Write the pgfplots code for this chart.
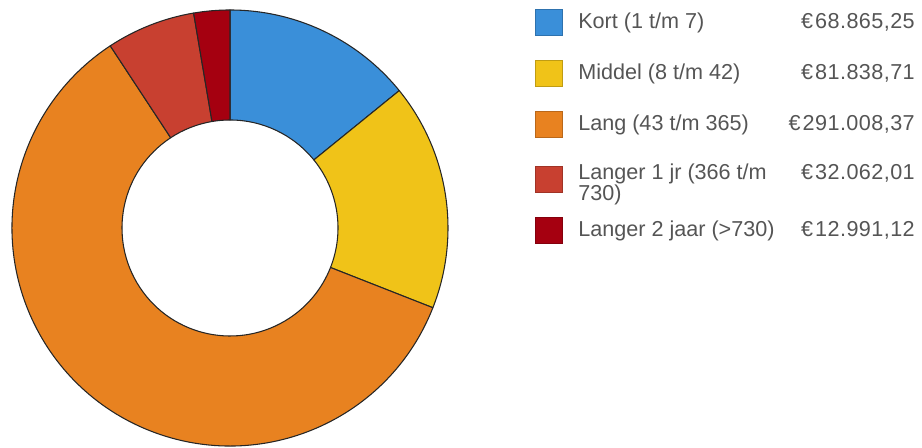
\documentclass[border=0pt]{standalone}
\usepackage{pgfplots}
\pgfplotsset{compat=1.18}
\usepackage{pgfplotstable}
\usepackage{fontspec}
\setmainfont{Liberation Sans}
\newfontfamily\valfont[LetterSpace=2]{Liberation Sans}

\definecolor{cKort}{HTML}{3A8FD9}
\definecolor{cMiddel}{HTML}{F0C318}
\definecolor{cLang}{HTML}{E88220}
\definecolor{cLanger}{HTML}{C84030}
\definecolor{cLangerTwee}{HTML}{A50010}
\definecolor{txt}{HTML}{555555}

% bedrag per looptijd (euro)
\pgfplotstableread{
value colour
68865.25 cKort
81838.71 cMiddel
291008.37 cLang
32062.01 cLanger
12991.12 cLangerTwee
}\donutdata

\begin{document}
\begin{tikzpicture}[font=\fontsize{16.2}{19}\selectfont]
\begin{axis}[
  x=0.75pt, y=0.75pt,
  xmin=0, xmax=922, ymin=0, ymax=448,
  y dir=reverse,
  hide axis, scale only axis, clip=false,
]
\coordinate (BL) at (axis cs:0,448);
\coordinate (TR) at (axis cs:922,0);
\coordinate (C) at (axis cs:230,228);

% legend
\foreach \yc/\col/\name/\val in {
  22/cKort/{Kort (1 t/m 7)}/{68.865,25},
  73/cMiddel/{Middel (8 t/m 42)}/{81.838,71},
  124/cLang/{Lang (43 t/m 365)}/{291.008,37},
  230/cLangerTwee/{Langer 2 jaar (>730)}/{12.991,12}}{
  \edef\tmp{\noexpand\filldraw[fill=\col, draw=\col!80!black, line width=0.6pt]
    (axis cs:535,\yc-13) rectangle (axis cs:562,\yc+13);
    \noexpand\node[anchor=base west, text=txt, inner sep=0pt] at (axis cs:578,\yc+7) {\name};
    \noexpand\node[anchor=base east, text=txt, inner sep=0pt] at (axis cs:915,\yc+7) {\noexpand\valfont €\noexpand\kern1.5pt\val};}
  \tmp
}
\filldraw[fill=cLanger, draw=cLanger!80!black, line width=0.6pt]
  (axis cs:535,166) rectangle (axis cs:562,192);
\node[anchor=base west, text=txt, inner sep=0pt] at (axis cs:578,180) {Langer 1 jr (366 t/m};
\node[anchor=base west, text=txt, inner sep=0pt] at (axis cs:578,201) {730)};
\node[anchor=base east, text=txt, inner sep=0pt] at (axis cs:915,180) {\valfont €\kern1.5pt32.062,01};
\end{axis}

% donut segments from the table, clockwise from the top
\pgfmathsetmacro{\R}{218*0.75}
\pgfmathsetmacro{\r}{108*0.75}
\xdef\total{0}
\foreach \i in {0,...,4}{
  \pgfplotstablegetelem{\i}{value}\of\donutdata
  \xdef\total{\fpeval{\total+\pgfplotsretval}}
}
\xdef\acur{90}
\foreach \i in {0,...,4}{
  \pgfplotstablegetelem{\i}{value}\of\donutdata
  \edef\aa{\acur}
  \xdef\acur{\fpeval{\acur-360*\pgfplotsretval/\total}}
  \edef\ab{\acur}
  \pgfplotstablegetelem{\i}{colour}\of\donutdata
  \edef\col{\pgfplotsretval}
  \filldraw[fill=\col, draw=black!85, line width=0.8pt, line join=round]
    ([shift={(\aa:\R pt)}]C) arc[start angle=\aa, end angle=\ab, radius=\R pt]
    -- ([shift={(\ab:\r pt)}]C) arc[start angle=\ab, end angle=\aa, radius=\r pt]
    -- cycle;
}
\pgfresetboundingbox
\useasboundingbox (BL) rectangle (TR);
\end{tikzpicture}
\end{document}
